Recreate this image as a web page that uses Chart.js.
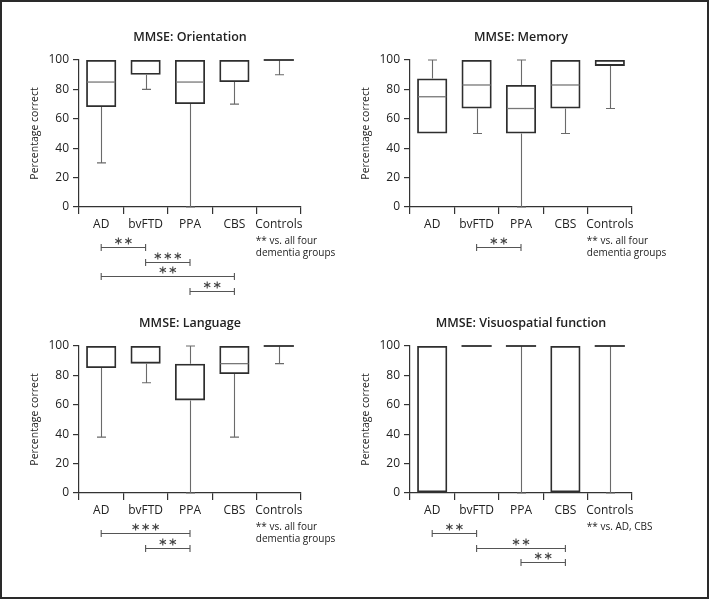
<!DOCTYPE html>
<html>
<head>
<meta charset="utf-8">
<script src="https://cdn.jsdelivr.net/npm/chart.js@4.4.1/dist/chart.umd.min.js"></script>
<style>
  html, body { margin: 0; padding: 0; background: #fff; }
  #figure { position: relative; width: 709px; height: 599px; overflow: hidden; background: #fff; }
  #frame { position: absolute; left: 0; top: 0; width: 709px; height: 599px; box-sizing: border-box; border: 2px solid #2a2a2a; pointer-events: none; }
  .panel { position: absolute; width: 370px; height: 310px; }
</style>
</head>
<body>
<div id="figure">
  <div class="panel" style="left:0;top:0"><canvas id="orientationChart" width="370" height="310"></canvas></div>
  <div class="panel" style="left:331px;top:0"><canvas id="memoryChart" width="370" height="310"></canvas></div>
  <div class="panel" style="left:0;top:286px"><canvas id="languageChart" width="370" height="310"></canvas></div>
  <div class="panel" style="left:331px;top:286px"><canvas id="visuoChart" width="370" height="310"></canvas></div>
  <div id="frame"></div>
</div>
<script>
const groups = ['AD', 'bvFTD', 'PPA', 'CBS', 'Controls'];
const yTicks = [0, 20, 40, 60, 80, 100];

// per group: whisker min, lower quartile, median, upper quartile, whisker max
const orientationMin = [30, 80, 0, 70, 90];
const orientationQ1 = [68, 90, 70, 85, 100];
const orientationMedian = [85, 100, 85, 100, 100];
const orientationQ3 = [100, 100, 100, 100, 100];
const orientationMax = [100, 100, 100, 100, 100];
const orientationSig = [['AD', 'bvFTD', '**'], ['bvFTD', 'PPA', '***'], ['AD', 'CBS', '**'], ['PPA', 'CBS', '**']];

const memoryMin = [50, 50, 0, 50, 67];
const memoryQ1 = [50, 67, 50, 67, 96];
const memoryMedian = [75, 83, 67, 83, 100];
const memoryQ3 = [87.5, 100, 83, 100, 100];
const memoryMax = [100, 100, 100, 100, 100];
const memorySig = [['bvFTD', 'PPA', '**']];

const languageMin = [38, 75, 0, 38, 88];
const languageQ1 = [85, 88, 63, 81, 100];
const languageMedian = [100, 100, 88, 88, 100];
const languageQ3 = [100, 100, 88, 100, 100];
const languageMax = [100, 100, 100, 100, 100];
const languageSig = [['AD', 'PPA', '***'], ['bvFTD', 'PPA', '**']];

const visuoMin = [0, 100, 0, 0, 0];
const visuoQ1 = [0, 100, 100, 0, 100];
const visuoMedian = [100, 100, 100, 100, 100];
const visuoQ3 = [100, 100, 100, 100, 100];
const visuoMax = [100, 100, 100, 100, 100];
const visuoSig = [['AD', 'bvFTD', '**'], ['bvFTD', 'CBS', '**'], ['PPA', 'CBS', '**']];

const FONT = "'Open Sans', 'Noto Sans', sans-serif";
const AXIS = '#333';
const BOX = '#2e2e2e';
const WHISKER = '#6a6a6a';
const TEXT = '#222';

// six-spoke asterisk like the significance marks in the figure
function drawStar(ctx, cx, cy, r) {
    ctx.beginPath();
    for (let a = 0; a < 3; a++) {
        const t = Math.PI / 2 + a * Math.PI / 3;
        ctx.moveTo(cx + r * Math.cos(t), cy + r * Math.sin(t));
        ctx.lineTo(cx - r * Math.cos(t), cy - r * Math.sin(t));
    }
    ctx.stroke();
}

function boxPlugin(p) {
    return {
        id: 'boxWhiskers',
        afterDatasetsDraw(chart) {
            const ctx = chart.ctx;
            const y = chart.scales.y;
            const bars = chart.getDatasetMeta(0).data;
            ctx.save();
            bars.forEach((bar, i) => {
                const cx = Math.round(bar.x) + 0.5;
                const half = bar.width / 2;
                const yMin = y.getPixelForValue(p.min[i]);
                const yQ1 = y.getPixelForValue(p.q1[i]);
                const yMed = y.getPixelForValue(p.median[i]);
                const yQ3 = y.getPixelForValue(p.q3[i]);
                const yMax = y.getPixelForValue(p.max[i]);

                ctx.strokeStyle = WHISKER;
                ctx.lineWidth = 1.1;
                ctx.beginPath();
                if (p.min[i] < p.q1[i]) {
                    ctx.moveTo(cx, yQ1); ctx.lineTo(cx, yMin);
                    ctx.moveTo(cx - 4.5, yMin); ctx.lineTo(cx + 4.5, yMin);
                }
                if (p.max[i] > p.q3[i]) {
                    ctx.moveTo(cx, yQ3); ctx.lineTo(cx, yMax);
                    ctx.moveTo(cx - 4.5, yMax); ctx.lineTo(cx + 4.5, yMax);
                }
                ctx.stroke();

                if (p.median[i] > p.q1[i] && p.median[i] < p.q3[i]) {
                    ctx.strokeStyle = '#777';
                    ctx.lineWidth = 1.3;
                    ctx.beginPath();
                    ctx.moveTo(bar.x - half + 1, yMed); ctx.lineTo(bar.x + half - 1, yMed);
                    ctx.stroke();
                }

                // flat box (lower = upper quartile) shows as a single line
                if (p.q1[i] === p.q3[i]) {
                    ctx.strokeStyle = BOX;
                    ctx.lineWidth = 1.8;
                    ctx.beginPath();
                    ctx.moveTo(bar.x - half, yQ3); ctx.lineTo(bar.x + half, yQ3);
                    ctx.stroke();
                }
            });
            ctx.restore();
        },
        afterDraw(chart) {
            const ctx = chart.ctx;
            const x = chart.scales.x;
            const base = chart.chartArea.bottom;
            ctx.save();
            p.sig.forEach((s, k) => {
                const x1 = x.getPixelForValue(groups.indexOf(s[0]));
                const x2 = x.getPixelForValue(groups.indexOf(s[1]));
                const ly = Math.round(base + 40 + 14.6 * k) + 0.5;
                ctx.strokeStyle = '#555';
                ctx.lineWidth = 1.1;
                ctx.beginPath();
                ctx.moveTo(x1, ly); ctx.lineTo(x2, ly);
                ctx.moveTo(x1, ly - 3.5); ctx.lineTo(x1, ly + 3.5);
                ctx.moveTo(x2, ly - 3.5); ctx.lineTo(x2, ly + 3.5);
                ctx.stroke();

                ctx.strokeStyle = '#444';
                ctx.lineWidth = 1.1;
                const n = s[2].length;
                const mid = (x1 + x2) / 2;
                for (let j = 0; j < n; j++) {
                    drawStar(ctx, mid + (j - (n - 1) / 2) * 10, ly - 6.5, 3.6);
                }
            });

            ctx.fillStyle = TEXT;
            ctx.font = '10px ' + FONT;
            ctx.textAlign = 'left';
            ctx.textBaseline = 'middle';
            const nx = x.getPixelForValue(4) - 23;
            p.note.forEach((line, k) => {
                ctx.fillText(line, nx, base + 34 + 12 * k);
            });
            ctx.restore();
        }
    };
}

function drawPanel(id, p) {
    const canvas = document.getElementById(id);
    new Chart(canvas, {
        type: 'bar',
        data: {
            labels: groups,
            datasets: [
                {
                    data: groups.map((g, i) => [p.q1[i], p.q3[i]]),
                    backgroundColor: 'rgba(0,0,0,0)',
                    borderColor: BOX,
                    borderWidth: 1.8,
                    borderSkipped: false,
                    barPercentage: 0.68,
                    categoryPercentage: 1,
                },
            ],
        },
        options: {
            responsive: false,
            animation: false,
            devicePixelRatio: 1,
            layout: { padding: { left: 0, right: 69, top: 0, bottom: 0 } },
            plugins: {
                legend: { display: false },
                tooltip: { enabled: false },
                title: {
                    display: true,
                    text: p.title,
                    fullSize: false,
                    color: TEXT,
                    font: { family: FONT, size: 12.5, weight: '600' },
                    padding: { top: 29.5, bottom: 15.5 },
                },
            },
            scales: {
                x: {
                    grid: { drawOnChartArea: false, offset: true, tickLength: 7, color: AXIS, lineWidth: 1.2 },
                    border: { color: AXIS, width: 1.2 },
                    ticks: { color: TEXT, font: { family: FONT, size: 12 }, padding: 3, maxRotation: 0, autoSkip: false },
                    afterFit: (s) => { s.height = 103; },
                },
                y: {
                    min: 0,
                    max: 100,
                    afterBuildTicks: (s) => { s.ticks = yTicks.map((v) => ({ value: v })); },
                    grid: { drawOnChartArea: false, tickLength: 6, color: AXIS, lineWidth: 1.2 },
                    border: { color: AXIS, width: 1.2 },
                    ticks: { color: TEXT, font: { family: FONT, size: 12 }, padding: 4 },
                    title: {
                        display: true,
                        text: 'Percentage correct',
                        color: TEXT,
                        font: { family: FONT, size: 10.5 },
                        padding: { top: 28.7, bottom: 0 },
                    },
                    afterFit: (s) => { s.width = 79; },
                },
            },
        },
        plugins: [boxPlugin(p)],
    });
}

drawPanel('orientationChart', {
    title: 'MMSE: Orientation',
    min: orientationMin, q1: orientationQ1, median: orientationMedian, q3: orientationQ3, max: orientationMax,
    sig: orientationSig, note: ['** vs. all four', 'dementia groups'],
});
drawPanel('memoryChart', {
    title: 'MMSE: Memory',
    min: memoryMin, q1: memoryQ1, median: memoryMedian, q3: memoryQ3, max: memoryMax,
    sig: memorySig, note: ['** vs. all four', 'dementia groups'],
});
drawPanel('languageChart', {
    title: 'MMSE: Language',
    min: languageMin, q1: languageQ1, median: languageMedian, q3: languageQ3, max: languageMax,
    sig: languageSig, note: ['** vs. all four', 'dementia groups'],
});
drawPanel('visuoChart', {
    title: 'MMSE: Visuospatial function',
    min: visuoMin, q1: visuoQ1, median: visuoMedian, q3: visuoQ3, max: visuoMax,
    sig: visuoSig, note: ['** vs. AD, CBS'],
});
</script>
</body>
</html>
